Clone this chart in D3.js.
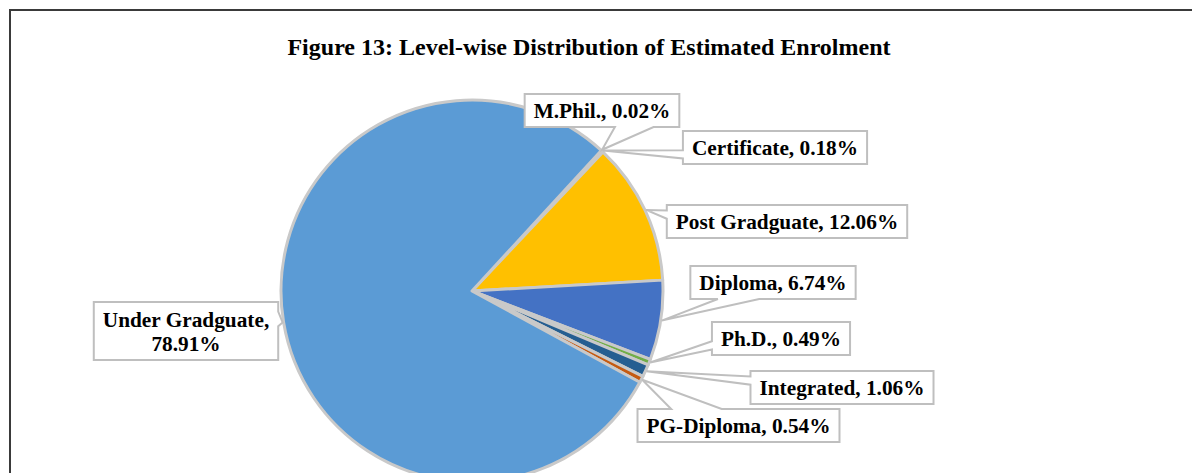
<!DOCTYPE html>
<html>
<head>
<meta charset="utf-8">
<script src="https://cdn.jsdelivr.net/npm/d3@7"></script>
<style>
  html, body { margin: 0; padding: 0; background: #fff; }
  svg { display: block; }
</style>
</head>
<body>
<svg id="chart" width="1192" height="473"></svg>
<script>
// ---- data ----
const categories = ["M.Phil.", "Certificate", "Post Gradguate", "Diploma", "Ph.D.", "Integrated", "PG-Diploma", "Under Gradguate"];
const shares = [0.02, 0.18, 12.06, 6.74, 0.49, 1.06, 0.54, 78.91];
const sliceColors = ["#7F7F7F", "#A5A5A5", "#FFC000", "#4472C4", "#70AD47", "#255E91", "#C55A11", "#5B9BD5"];
const title = "Figure 13: Level-wise Distribution of Estimated Enrolment";

// ---- layout (label callout boxes: centre x, top y) ----
const labelBoxes = [
  { cx: 602, top: 94 },
  { cx: 775, top: 131 },
  { cx: 787, top: 205 },
  { cx: 773, top: 266 },
  { cx: 781, top: 322 },
  { cx: 842, top: 371 },
  { cx: 738.5, top: 409 },
  { cx: 186, top: 302, lines: 2 }
];

const W = 1192, H = 473;
const cx = 472, cy = 291, R = 191;
const startDeg = 42.6;
const svg = d3.select("#chart");
const serif = "'Liberation Serif', 'Times New Roman', serif";

// frame
svg.append("rect").attr("x", 10).attr("y", 10).attr("width", 1200).attr("height", 500)
  .attr("fill", "#fff").attr("stroke", "#3a3a3a").attr("stroke-width", 2);

// title
svg.append("text").attr("x", 589).attr("y", 55).attr("text-anchor", "middle")
  .attr("font-family", serif)
  .attr("font-weight", "bold").attr("font-size", 24).attr("fill", "#000")
  .text(title);

const data = categories.map((c, i) => ({ name: c, value: shares[i], color: sliceColors[i], box: labelBoxes[i] }));
const a0 = startDeg * Math.PI / 180;
const pie = d3.pie().sort(null).value(d => d.value).startAngle(a0).endAngle(a0 + 2 * Math.PI);
const arcs = pie(data);
const arc = d3.arc().innerRadius(0).outerRadius(R);

const g = svg.append("g").attr("transform", `translate(${cx},${cy})`);
g.selectAll("path.slice").data(arcs).join("path").attr("class", "slice")
  .attr("d", arc).attr("fill", d => d.data.color)
  .attr("stroke", "#C9C9C9").attr("stroke-width", 3).attr("stroke-linejoin", "round");

// callout labels
const fontSize = 21.3;
const lg = svg.append("g");
arcs.forEach(d => {
  const mid = (d.startAngle + d.endAngle) / 2;
  const tipX = cx + (R + 1) * Math.sin(mid);
  const tipY = cy - (R + 1) * Math.cos(mid);
  const b = d.data.box;
  const grp = lg.append("g");
  const txt = grp.append("text")
    .attr("font-family", serif)
    .attr("font-weight", "bold").attr("font-size", fontSize).attr("fill", "#000")
    .attr("text-anchor", "middle");
  const pct = d.data.value.toFixed(2) + "%";
  const two = b.lines === 2;
  const lines = two ? [d.data.name + ",", pct] : [d.data.name + ", " + pct];
  const lh = 24;
  const base = two ? 25 : 24;
  lines.forEach((t, i) => {
    txt.append("tspan").attr("x", b.cx).attr("y", b.top + base + i * lh).text(t);
  });
  const tw = d3.max(txt.selectAll("tspan").nodes(), n => n.getComputedTextLength());
  const w = tw + 18;
  const h = two ? 58 : 33;
  const l = b.cx - w / 2, r = b.cx + w / 2, t = b.top, bt = b.top + h;
  const hc = b.cx, vc = b.top + h / 2;
  const dx = tipX - hc, dy = tipY - vc;
  const dz = Math.abs(dy) - Math.abs(dx * h / w);
  const x1 = l + w * (dx > 0 ? 7 : 2) / 12, x2 = l + w * (dx > 0 ? 10 : 5) / 12;
  const y1 = t + h * (dy > 0 ? 7 : 2) / 12, y2 = t + h * (dy > 0 ? 10 : 5) / 12;
  let p;
  if (dz > 0 && dy < 0) {
    p = `M${l},${t}L${x1},${t}L${tipX},${tipY}L${x2},${t}L${r},${t}L${r},${bt}L${l},${bt}Z`;
  } else if (dz > 0) {
    p = `M${l},${t}L${r},${t}L${r},${bt}L${x2},${bt}L${tipX},${tipY}L${x1},${bt}L${l},${bt}Z`;
  } else if (dx < 0) {
    p = `M${l},${t}L${r},${t}L${r},${bt}L${l},${bt}L${l},${y2}L${tipX},${tipY}L${l},${y1}Z`;
  } else {
    p = `M${l},${t}L${r},${t}L${r},${y1}L${tipX},${tipY}L${r},${y2}L${r},${bt}L${l},${bt}Z`;
  }
  grp.insert("path", "text").attr("d", p).attr("fill", "#fff")
    .attr("stroke", "#BFBFBF").attr("stroke-width", 2).attr("stroke-linejoin", "miter");
});
</script>
</body>
</html>
